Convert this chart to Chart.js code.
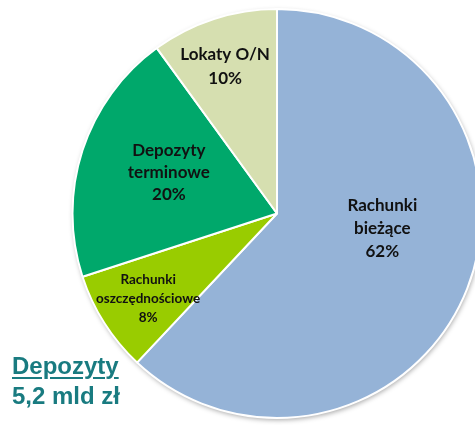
<!DOCTYPE html>
<html>
<head>
<meta charset="utf-8">
<script src="https://cdn.jsdelivr.net/npm/chart.js@4.4.0/dist/chart.umd.min.js"></script>
<style>
  html, body { margin: 0; padding: 0; background: #fff; overflow: hidden; }
  #wrap { position: absolute; left: 0; top: 0; width: 554px; height: 425px; }
  #total {
    position: absolute; left: 12px; top: 351px;
    font-family: "Liberation Sans", Arial, sans-serif; font-weight: bold;
    font-size: 24px; line-height: 30px; color: #197b80;
  }
  #total u { text-decoration-thickness: 2px; text-underline-offset: 3px; }
</style>
</head>
<body>
<div id="wrap"><canvas id="pie-chart" width="554" height="425"></canvas></div>
<div id="total"><u>Depozyty</u><br>5,2 mld zł</div>
<script>
const categories = ['Rachunki bieżące', 'Rachunki oszczędnościowe', 'Depozyty terminowe', 'Lokaty O/N'];
const shares = [62, 8, 20, 10];
const labelLines = [['Rachunki', 'bieżące'], ['Rachunki', 'oszczędnościowe'], ['Depozyty', 'terminowe'], ['Lokaty O/N']];
const colors = ['#95b3d7', '#99cc00', '#00a86b', '#d6dfb0'];

// soft shadow under the whole pie
const pieShadow = {
	id: 'pieShadow',
	beforeDatasetsDraw(chart) {
		const arc = chart.getDatasetMeta(0).data[0];
		if (!arc) return;
		const {x, y, outerRadius} = arc.getProps(['x', 'y', 'outerRadius'], true);
		const ctx = chart.ctx;
		ctx.save();
		ctx.shadowColor = 'rgba(0,0,0,0.35)';
		ctx.shadowBlur = 5;
		ctx.shadowOffsetX = 1;
		ctx.shadowOffsetY = 2;
		ctx.fillStyle = '#fff';
		ctx.beginPath();
		ctx.arc(x, y, outerRadius, 0, Math.PI * 2);
		ctx.fill();
		ctx.restore();
	}
};

// slice labels placed inside each arc
const sliceLabels = {
	id: 'sliceLabels',
	afterDatasetsDraw(chart, args, opts) {
		const ctx = chart.ctx;
		chart.getDatasetMeta(0).data.forEach((arc, i) => {
			const p = arc.getProps(['x', 'y', 'startAngle', 'endAngle', 'outerRadius'], true);
			const ang = (p.startAngle + p.endAngle) / 2 + opts.shift[i] * Math.PI / 180;
			const r = p.outerRadius * opts.radius[i];
			const cx = p.x + Math.cos(ang) * r;
			const cy = p.y + Math.sin(ang) * r;
			const lines = labelLines[i].concat([shares[i] + '%']);
			const size = opts.size[i];
			const lh = opts.lineHeight[i];
			ctx.save();
			ctx.fillStyle = '#111111';
			ctx.font = 'bold ' + size + 'px Lato, "Open Sans", sans-serif';
			ctx.textAlign = 'center';
			ctx.textBaseline = 'middle';
			lines.forEach((t, k) => {
				ctx.fillText(t, cx, cy + (k - (lines.length - 1) / 2) * lh);
			});
			ctx.restore();
		});
	}
};

const ctx = document.getElementById('pie-chart');
new Chart(ctx, {
	type: 'pie',
	data: {
		labels: categories,
		datasets: [{
			data: shares,
			backgroundColor: colors,
			borderColor: '#ffffff',
			borderWidth: 2
		}]
	},
	options: {
		responsive: false,
		animation: false,
		layout: { padding: { top: 8, bottom: 6, left: 0, right: 0 } },
		plugins: {
			legend: { display: false },
			tooltip: { enabled: false },
			sliceLabels: {
				radius: [0.52, 0.755, 0.565, 0.764],
				shift: [-13.6, -1.0, 2.6, -1.4],
				size: [17, 13.5, 17, 17],
				lineHeight: [23, 19, 22, 24]
			}
		}
	},
	plugins: [pieShadow, sliceLabels]
});
</script>
</body>
</html>
